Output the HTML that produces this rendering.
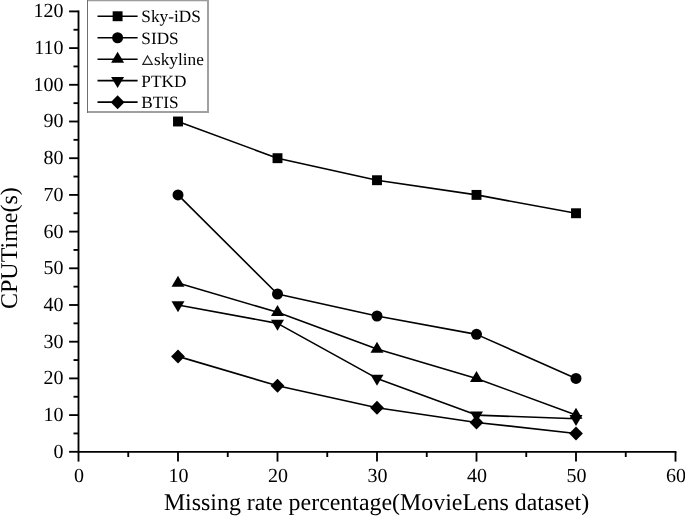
<!DOCTYPE html>
<html><head><meta charset="utf-8"><style>
html,body{margin:0;padding:0;background:#fff;width:685px;height:516px;overflow:hidden}
svg{display:block;text-rendering:geometricPrecision;will-change:transform}
</style></head><body>
<svg width="685" height="516" viewBox="0 0 685 516">
<rect width="685" height="516" fill="#fff"/>
<g stroke="#000" stroke-width="1.85" fill="none" stroke-linecap="butt">
<path d="M78.50,10.53 V451.80"/>
<path d="M78.50,451.80 H676.42"/>
</g>
<g stroke="#000" stroke-width="1.85" fill="none">
<path d="M69.10,451.80 H78.50"/>
<path d="M73.50,433.45 H78.50"/>
<path d="M69.10,415.10 H78.50"/>
<path d="M73.50,396.75 H78.50"/>
<path d="M69.10,378.40 H78.50"/>
<path d="M73.50,360.05 H78.50"/>
<path d="M69.10,341.70 H78.50"/>
<path d="M73.50,323.35 H78.50"/>
<path d="M69.10,305.00 H78.50"/>
<path d="M73.50,286.65 H78.50"/>
<path d="M69.10,268.30 H78.50"/>
<path d="M73.50,249.95 H78.50"/>
<path d="M69.10,231.60 H78.50"/>
<path d="M73.50,213.25 H78.50"/>
<path d="M69.10,194.90 H78.50"/>
<path d="M73.50,176.55 H78.50"/>
<path d="M69.10,158.20 H78.50"/>
<path d="M73.50,139.85 H78.50"/>
<path d="M69.10,121.50 H78.50"/>
<path d="M73.50,103.15 H78.50"/>
<path d="M69.10,84.80 H78.50"/>
<path d="M73.50,66.45 H78.50"/>
<path d="M69.10,48.10 H78.50"/>
<path d="M73.50,29.75 H78.50"/>
<path d="M69.10,11.40 H78.50"/>
<path d="M78.50,451.80 V461.60"/>
<path d="M128.25,451.80 V457.00"/>
<path d="M178.00,451.80 V461.60"/>
<path d="M227.75,451.80 V457.00"/>
<path d="M277.50,451.80 V461.60"/>
<path d="M327.25,451.80 V457.00"/>
<path d="M377.00,451.80 V461.60"/>
<path d="M426.75,451.80 V457.00"/>
<path d="M476.50,451.80 V461.60"/>
<path d="M526.25,451.80 V457.00"/>
<path d="M576.00,451.80 V461.60"/>
<path d="M625.75,451.80 V457.00"/>
<path d="M675.50,451.80 V461.60"/>
</g>
<g style="font-family:'Liberation Serif',serif;font-size:20px" fill="#000">
<text x="63.5" y="457.70" text-anchor="end">0</text>
<text x="63.5" y="421.00" text-anchor="end">10</text>
<text x="63.5" y="384.30" text-anchor="end">20</text>
<text x="63.5" y="347.60" text-anchor="end">30</text>
<text x="63.5" y="310.90" text-anchor="end">40</text>
<text x="63.5" y="274.20" text-anchor="end">50</text>
<text x="63.5" y="237.50" text-anchor="end">60</text>
<text x="63.5" y="200.80" text-anchor="end">70</text>
<text x="63.5" y="164.10" text-anchor="end">80</text>
<text x="63.5" y="127.40" text-anchor="end">90</text>
<text x="63.5" y="90.70" text-anchor="end">100</text>
<text x="63.5" y="54.00" text-anchor="end">110</text>
<text x="63.5" y="17.30" text-anchor="end">120</text>
<text x="79.00" y="481.5" text-anchor="middle">0</text>
<text x="178.50" y="481.5" text-anchor="middle">10</text>
<text x="278.00" y="481.5" text-anchor="middle">20</text>
<text x="377.50" y="481.5" text-anchor="middle">30</text>
<text x="477.00" y="481.5" text-anchor="middle">40</text>
<text x="576.50" y="481.5" text-anchor="middle">50</text>
<text x="676.00" y="481.5" text-anchor="middle">60</text>
</g>
<text x="376.5" y="509.6" text-anchor="middle" style="font-family:'Liberation Serif',serif;font-size:23.9px">Missing rate percentage(MovieLens dataset)</text>
<text transform="translate(17.1,248.1) rotate(-90)" text-anchor="middle" style="font-family:'Liberation Serif',serif;font-size:24px">CPUTime(s)</text>
<g stroke="#000" stroke-width="1.6" fill="none" stroke-linejoin="round">
<polyline points="178.00,121.50 277.50,158.20 377.00,180.22 476.50,194.90 576.00,213.25"/>
<polyline points="178.00,194.90 277.50,293.99 377.00,316.01 476.50,334.36 576.00,378.40"/>
<polyline points="178.00,282.98 277.50,312.34 377.00,349.04 476.50,378.40 576.00,415.10"/>
<polyline points="178.00,305.00 277.50,323.35 377.00,378.40 476.50,415.10 576.00,418.77"/>
<polyline points="178.00,356.38 277.50,385.74 377.00,407.76 476.50,422.44 576.00,433.45"/>
</g>
<g fill="#000">
<rect x="173.05" y="116.55" width="9.9" height="9.9"/>
<rect x="272.55" y="153.25" width="9.9" height="9.9"/>
<rect x="372.05" y="175.27" width="9.9" height="9.9"/>
<rect x="471.55" y="189.95" width="9.9" height="9.9"/>
<rect x="571.05" y="208.30" width="9.9" height="9.9"/>
<circle cx="178.00" cy="194.90" r="5.5"/>
<circle cx="277.50" cy="293.99" r="5.5"/>
<circle cx="377.00" cy="316.01" r="5.5"/>
<circle cx="476.50" cy="334.36" r="5.5"/>
<circle cx="576.00" cy="378.40" r="5.5"/>
<polygon points="178.00,275.65 184.50,286.65 171.50,286.65"/>
<polygon points="277.50,305.01 284.00,316.01 271.00,316.01"/>
<polygon points="377.00,341.71 383.50,352.71 370.50,352.71"/>
<polygon points="476.50,371.07 483.00,382.07 470.00,382.07"/>
<polygon points="576.00,407.77 582.50,418.77 569.50,418.77"/>
<polygon points="171.50,301.33 184.50,301.33 178.00,312.33"/>
<polygon points="271.00,319.68 284.00,319.68 277.50,330.68"/>
<polygon points="370.50,374.73 383.50,374.73 377.00,385.73"/>
<polygon points="470.00,411.43 483.00,411.43 476.50,422.43"/>
<polygon points="569.50,415.10 582.50,415.10 576.00,426.10"/>
<polygon points="178.00,349.38 184.90,356.38 178.00,363.38 171.10,356.38"/>
<polygon points="277.50,378.74 284.40,385.74 277.50,392.74 270.60,385.74"/>
<polygon points="377.00,400.76 383.90,407.76 377.00,414.76 370.10,407.76"/>
<polygon points="476.50,415.44 483.40,422.44 476.50,429.44 469.60,422.44"/>
<polygon points="576.00,426.45 582.90,433.45 576.00,440.45 569.10,433.45"/>
</g>
<rect x="87" y="0" width="122" height="113" fill="#fff"/>
<rect x="87" y="0" width="122" height="1" fill="#9c9c9c"/>
<rect x="88" y="1" width="119" height="1" fill="#e4e4e4"/>
<rect x="207" y="0" width="2" height="113" fill="#a0a0a0"/>
<rect x="87" y="111" width="122" height="2" fill="#a0a0a0"/>
<rect x="87" y="0" width="1" height="113" fill="#6e6e6e"/>
<g stroke="#000" stroke-width="1.6">
<path d="M97.5,16.25 H137.6"/>
<path d="M97.5,37.75 H137.6"/>
<path d="M97.5,59.2 H137.6"/>
<path d="M97.5,80.65 H137.6"/>
<path d="M97.5,102.15 H137.6"/>
</g><g fill="#000">
<rect x="112.65" y="11.30" width="9.9" height="9.9"/>
<circle cx="117.60" cy="37.75" r="5.5"/>
<polygon points="117.60,51.87 124.10,62.87 111.10,62.87"/>
<polygon points="111.10,76.98 124.10,76.98 117.60,87.98"/>
<polygon points="117.60,95.15 124.50,102.15 117.60,109.15 110.70,102.15"/>
</g>
<g style="font-family:'Liberation Serif',serif;font-size:17.25px" fill="#000">
<text x="141.3" y="22.15">Sky-iDS</text>
<text x="141.3" y="43.65">SIDS</text>
<text x="154.0" y="65.10">skyline</text>
<text x="141.3" y="86.55">PTKD</text>
<text x="141.3" y="108.05">BTIS</text>
</g>
<polygon points="142.9,64.3 147.5,55.9 152.3,64.3" fill="none" stroke="#222" stroke-width="1.2" stroke-linejoin="miter"/>
</svg>
</body></html>
